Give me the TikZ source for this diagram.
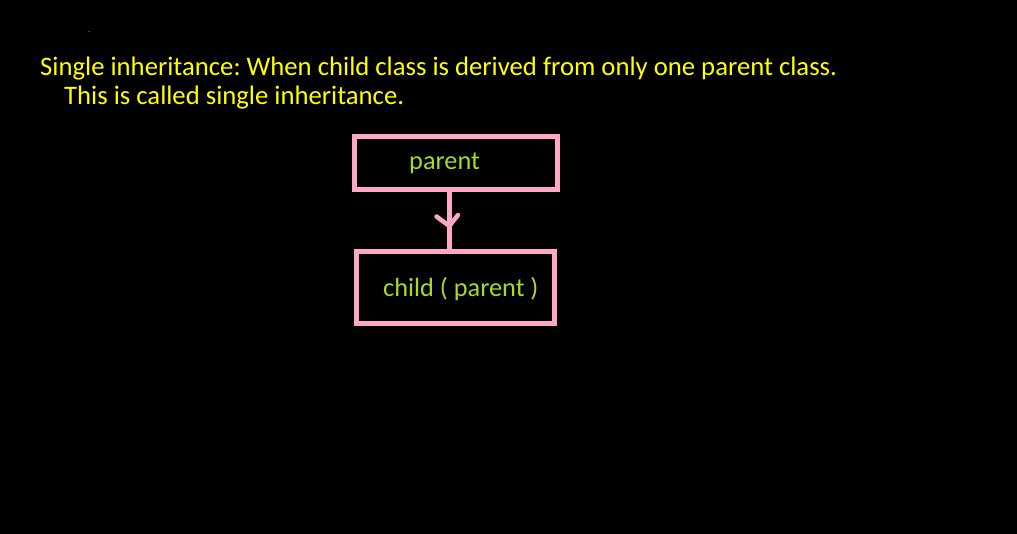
\documentclass[tikz,border=0pt]{standalone}
\usepackage{fontspec}
\setmainfont{Carlito}
\usetikzlibrary{arrows.meta}
\definecolor{bxpink}{HTML}{FFA8C5}
\definecolor{txyellow}{HTML}{FFFF00}
\definecolor{txgreen}{HTML}{A8D82A}
\tikzset{
  title/.style={anchor=base west,inner sep=0pt,text=txyellow,font=\fontsize{26.7}{32}\selectfont\frenchspacing},
  label/.style={anchor=base west,inner sep=0pt,text=txgreen,font=\fontsize{26.3}{31}\selectfont\frenchspacing},
  classbox/.style={draw=bxpink,line width=5pt},
  conn/.style={draw=bxpink,line width=5pt},
  chev/.style={draw=bxpink,line width=4.5pt,line cap=round,line join=round}
}
\begin{document}
\begin{tikzpicture}[x=1pt,y=-1pt]
\useasboundingbox[fill=black] (0,0) rectangle (1017,534);
\fill[gray] (89,31.5) circle (0.7);
\node[title] (t1) at (40,75.8) {Single inheritance: When child class is derived from only one parent class.};
\node[title] (t2) at (64,104.8) {This is called single inheritance.};
\draw[classbox] (354.5,137) rectangle (557.5,190);
\coordinate (ps) at (449.3,190);
\draw[classbox] (356,251.7) rectangle (554,323.5);
\coordinate (cn) at (449.3,251.7);
\node[label] (pl) at (409,169.5) {parent};
\node[label] (cl) at (383,296.2) {child ( parent )};
\draw[conn] (ps) -- (cn);
\coordinate (tip) at (449.3,226);
\coordinate (la) at (436.5,216.5);
\coordinate (ra) at (458,215);
\draw[chev] (la) -- (tip) -- (ra);
\end{tikzpicture}
\end{document}
